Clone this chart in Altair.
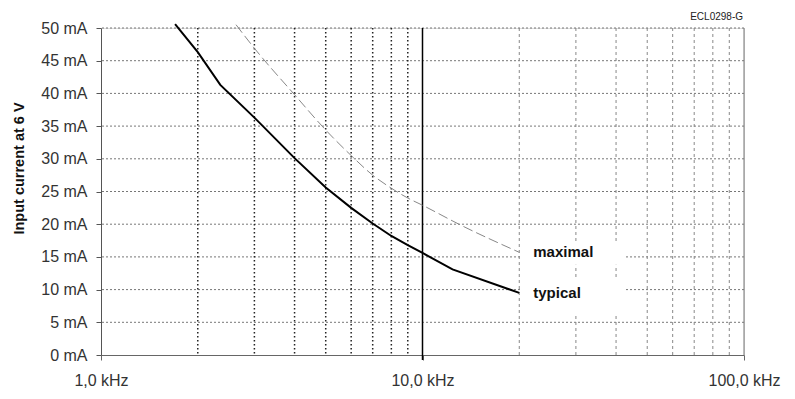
import altair as alt
import pandas as pd

# ---- data ----
typ_f = [1.7, 2.0, 2.35, 3.0, 4.0, 5.0, 6.0, 7.0, 8.0, 9.0, 10.0, 12.4, 20.0]
typ_i = [50.6, 46.3, 41.3, 36.3, 30.1, 25.6, 22.5, 20.1, 18.2, 16.8, 15.6, 13.1, 9.5]

max_f = [2.63, 3.0, 4.0, 5.0, 6.0, 7.0, 8.0, 9.0, 10.0, 13.1, 20.0]
max_i = [50.5, 46.9, 39.8, 34.4, 30.5, 27.5, 25.5, 24.0, 22.9, 19.9, 15.7]

grid_i = [5, 10, 15, 20, 25, 30, 35, 40, 45, 50]
grid_f_lo = [2, 3, 4, 5, 6, 7, 8, 9]
grid_f_hi = [20, 30, 40, 50, 60, 70, 80, 90]
major_f = [10]
edge_f = [100]

y_ticks = [0, 5, 10, 15, 20, 25, 30, 35, 40, 45, 50]
x_ticks = [1, 10, 100]
x_tick_labels = ["1,0 kHz", "10,0 kHz", "100,0 kHz"]

label_text = ["maximal", "typical"]
label_f = [20.0, 20.0]
label_i = [15.7, 9.5]
box_f0 = [20.1, 20.1]
box_f1 = [42.4, 42.4]
box_lo = [13.8, 6.4]
box_hi = [17.3, 11.8]

code_text = ["ECL0298-G"]

FONT = "Liberation Sans"

xs = alt.Scale(type="log", domain=[1, 100], nice=False)
ys = alt.Scale(domain=[0, 50], nice=False)

label_expr = " : ".join(
    f"datum.value == {v} ? '{t}'" for v, t in zip(x_ticks, x_tick_labels)
) + " : ''"

x_axis = alt.Axis(
    values=x_ticks, labelExpr=label_expr, grid=False, title=None,
    labelFont=FONT, labelFontSize=16, labelColor="#333",
    domainColor="#666", tickColor="#666", tickSize=5, labelPadding=12,
    labelFlush=False, labelOverlap=False,
)
y_axis = alt.Axis(
    values=y_ticks, labelExpr="datum.value + ' mA'", grid=False,
    title="Input current at 6 V", titleFont=FONT, titleFontSize=14.5,
    titleFontWeight="bold", titleColor="#111", titleAngle=270,
    titleX=-78, titleY=140, titleBaseline="alphabetic", titleAlign="center",
    labelFont=FONT, labelFontSize=16, labelColor="#333",
    domainColor="#555", tickColor="#555", tickSize=5, labelPadding=9,
)


def X(field):
    return alt.X(field, scale=xs, axis=x_axis)


def Y(field):
    return alt.Y(field, scale=ys, axis=y_axis)


typ_df = pd.DataFrame({"f": typ_f, "i": typ_i})
max_df = pd.DataFrame({"f": max_f, "i": max_i})
hgrid_df = pd.DataFrame({"i": grid_i})
vlo_df = pd.DataFrame({"f": grid_f_lo})
vhi_df = pd.DataFrame({"f": grid_f_hi})
major_df = pd.DataFrame({"f": major_f})
edge_df = pd.DataFrame({"f": edge_f})
lab_df = pd.DataFrame({"t": label_text, "f": label_f, "i": label_i,
                       "f0": box_f0, "f1": box_f1, "lo": box_lo, "hi": box_hi})
code_df = pd.DataFrame({"t": code_text})

hgrid = alt.Chart(hgrid_df).mark_rule(color="#777", strokeDash=[2, 2], strokeWidth=1).encode(
    y=Y("i:Q")
)
vlo = alt.Chart(vlo_df).mark_rule(color="#222", strokeDash=[1.5, 2.5], strokeWidth=1.5).encode(
    x=X("f:Q")
)
vhi = alt.Chart(vhi_df).mark_rule(color="#888", strokeDash=[3, 3], strokeWidth=1).encode(
    x=X("f:Q")
)
major = alt.Chart(major_df).mark_rule(color="#000", strokeWidth=1.5).encode(
    x=X("f:Q"),
    y=alt.value(0), y2=alt.value(332),
)
edge = alt.Chart(edge_df).mark_rule(color="#777", strokeWidth=1).encode(
    x=X("f:Q")
)
boxes = alt.Chart(lab_df).mark_rect(color="white").encode(
    x=X("f0:Q"), x2="f1:Q",
    y=Y("lo:Q"), y2="hi:Q",
)
max_line = alt.Chart(max_df).mark_line(
    color="#888", strokeWidth=1, strokeDash=[10, 4], interpolate="monotone"
).encode(
    x=X("f:Q"), y=Y("i:Q"),
)
typ_line = alt.Chart(typ_df).mark_line(
    color="#000", strokeWidth=2, interpolate="linear"
).encode(
    x=X("f:Q"), y=Y("i:Q"),
)
texts = alt.Chart(lab_df).mark_text(
    align="left", baseline="middle", dx=14, font=FONT, fontSize=15,
    fontWeight="bold", color="#111"
).encode(
    x=X("f:Q"), y=Y("i:Q"),
    text="t:N",
)
code = alt.Chart(code_df).mark_text(
    align="right", baseline="middle", font=FONT, fontSize=10, color="#222"
).encode(
    x=alt.value(642), y=alt.value(-11), text="t:N",
)

chart = alt.layer(
    hgrid, vlo, vhi, major, edge, boxes, max_line, typ_line, texts, code
).properties(
    width=643, height=327,
    autosize=alt.AutoSizeParams(type="none"),
    padding={"left": 93, "top": 20, "right": 38, "bottom": 35},
).configure_view(stroke=None).configure(background="white")

chart.save("out.html", embed_options={"renderer": "svg", "actions": False})
